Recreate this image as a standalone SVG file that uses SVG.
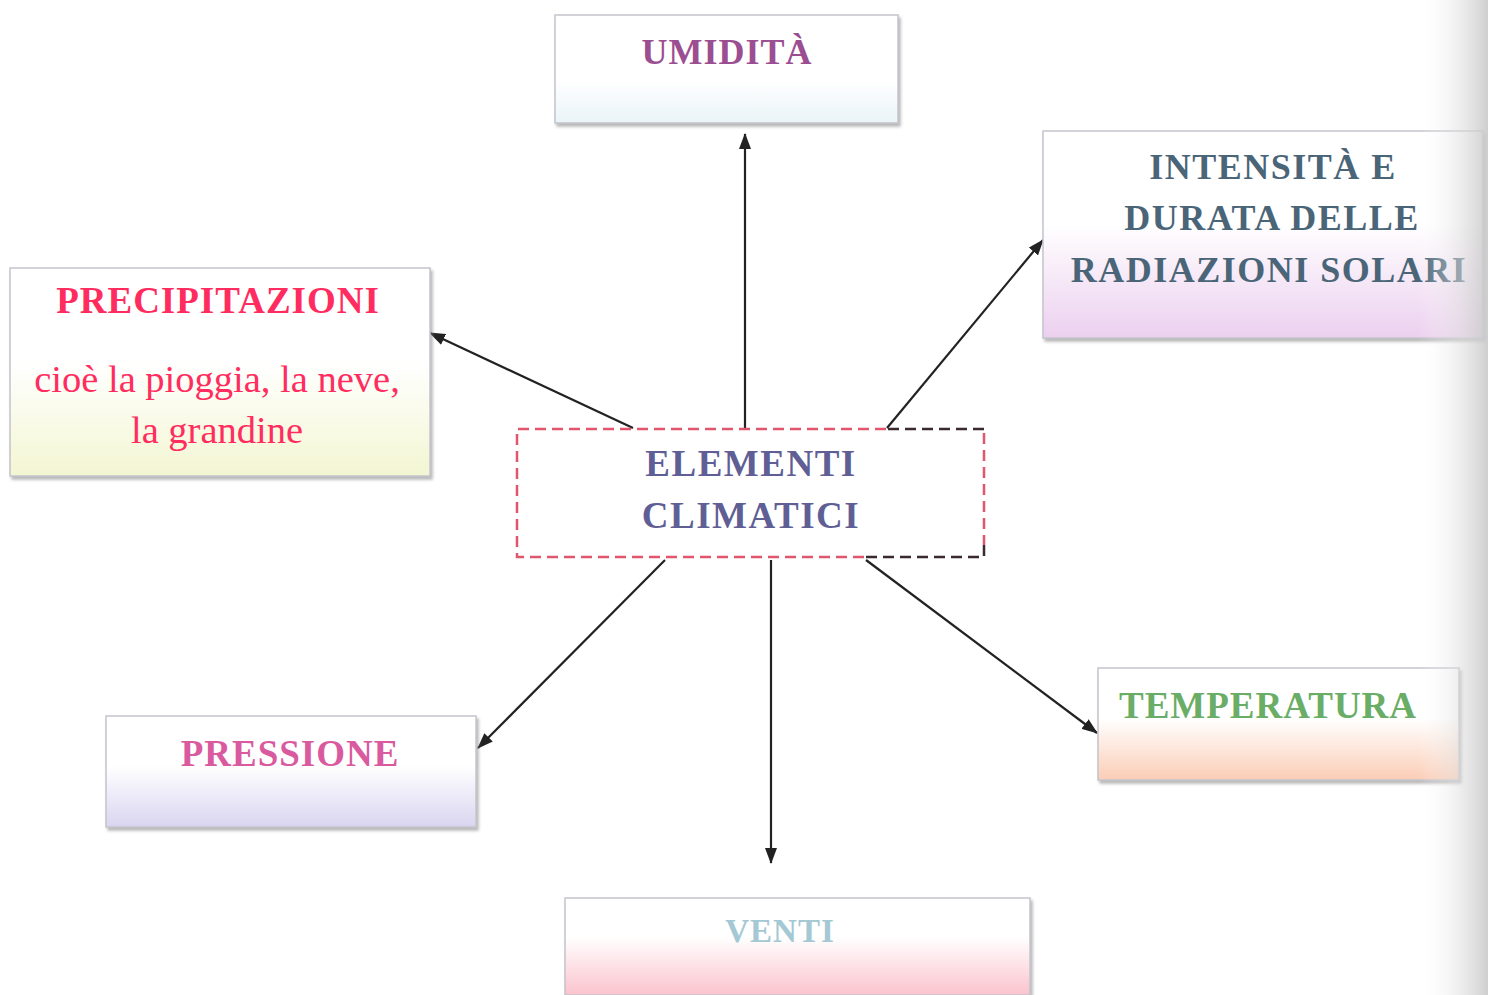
<svg xmlns="http://www.w3.org/2000/svg" width="1488" height="995" viewBox="0 0 1488 995">
<defs>
<style>
.t{font-family:"Liberation Serif","Times New Roman",serif;font-weight:bold;text-anchor:middle;font-size:36px;letter-spacing:1px}
.r{font-family:"Liberation Serif","Times New Roman",serif;text-anchor:middle;font-size:38.5px;fill:#ff2d5f}
.box{stroke:#c4c4cc;stroke-width:1.5;filter:url(#sh)}
.c{stroke:#222;stroke-width:2.2;fill:none;marker-end:url(#ah)}
.dash{fill:none;stroke-width:2.5;stroke-dasharray:11,6}
</style>
<filter id="sh" x="-5%" y="-5%" width="115%" height="120%">
<feDropShadow dx="2" dy="3" stdDeviation="1.5" flood-color="#888" flood-opacity="0.6"/>
</filter>
<marker id="ah" viewBox="0 0 16 12" refX="15" refY="6" markerWidth="16" markerHeight="12" markerUnits="userSpaceOnUse" orient="auto">
<path d="M0,0 L16,6 L0,12 Z" fill="#222"/>
</marker>
<linearGradient id="gU" x1="0" y1="0" x2="0" y2="1"><stop offset="0.6" stop-color="#fff"/><stop offset="1" stop-color="#eaf4f8"/></linearGradient>
<linearGradient id="gI" x1="0" y1="0" x2="0" y2="1"><stop offset="0.45" stop-color="#fff"/><stop offset="1" stop-color="#ecd0ef"/></linearGradient>
<linearGradient id="gP" x1="0" y1="0" x2="0" y2="1"><stop offset="0.45" stop-color="#fff"/><stop offset="1" stop-color="#f3f6d2"/></linearGradient>
<linearGradient id="gS" x1="0" y1="0" x2="0" y2="1"><stop offset="0.45" stop-color="#fff"/><stop offset="1" stop-color="#d9d5f0"/></linearGradient>
<linearGradient id="gT" x1="0" y1="0" x2="0" y2="1"><stop offset="0.45" stop-color="#fff"/><stop offset="1" stop-color="#fbcdb6"/></linearGradient>
<linearGradient id="gV" x1="0" y1="0" x2="0" y2="1"><stop offset="0.4" stop-color="#fff"/><stop offset="1" stop-color="#fbc3cd"/></linearGradient>
<linearGradient id="edge" x1="0" y1="0" x2="1" y2="0"><stop offset="0" stop-color="#fff" stop-opacity="0"/><stop offset="1" stop-color="#c9c9c9" stop-opacity="0.9"/></linearGradient>
</defs>
<rect width="1488" height="995" fill="#fff"/>

<g id="connectors">
<line class="c" x1="745" y1="428" x2="745" y2="134"/>
<line class="c" x1="887" y1="428" x2="1043" y2="240"/>
<line class="c" x1="633" y1="428" x2="430" y2="333"/>
<line class="c" x1="665" y1="560" x2="478" y2="748"/>
<line class="c" x1="771" y1="560" x2="771" y2="863"/>
<line class="c" x1="866" y1="560" x2="1097" y2="733"/>
</g>

<g id="umidita">
<rect class="box" x="555" y="15" width="343" height="108" fill="url(#gU)"/>
<text class="t" x="727" y="64" fill="#9b4e91">UMIDITÀ</text>
</g>

<g id="intensita">
<rect class="box" x="1043" y="131" width="440" height="207" fill="url(#gI)" stroke="#b7a4c0"/>
<g class="t" fill="#4a6577" style="letter-spacing:1.5px">
<text x="1273" y="179">INTENSITÀ E</text>
<text x="1272" y="230">DURATA DELLE</text>
<text x="1269" y="282">RADIAZIONI SOLARI</text>
</g>
</g>

<g id="precipitazioni">
<rect class="box" x="10" y="268" width="420" height="208" fill="url(#gP)"/>
<text class="t" x="218" y="313" fill="#ff2d5f" style="font-size:37px;letter-spacing:1px">PRECIPITAZIONI</text>
<text class="r" x="217" y="392">cioè la pioggia, la neve,</text>
<text class="r" x="217" y="443">la grandine</text>
</g>

<g id="elementi">
<rect x="517" y="429" width="467" height="128" fill="#fff"/>
<path class="dash" d="M886,429 H517 V557 H866 M984,433 V545" stroke="#e0566c"/>
<path class="dash" d="M888,429 H984 M866,557 H984 V545" stroke="#3a2a30"/>
<g class="t" fill="#5f5f95" style="font-size:37px;letter-spacing:1.5px">
<text x="751" y="476">ELEMENTI</text>
<text x="751" y="528">CLIMATICI</text>
</g>
</g>

<g id="pressione">
<rect class="box" x="106" y="716" width="370" height="111" fill="url(#gS)"/>
<text class="t" x="290" y="766" fill="#d95a9f" style="font-size:37px">PRESSIONE</text>
</g>

<g id="temperatura">
<rect class="box" x="1098" y="668" width="361" height="112" fill="url(#gT)" stroke="#ecc8b8"/>
<text class="t" x="1268" y="718" fill="#6aad66" style="font-size:37px">TEMPERATURA</text>
</g>

<g id="venti">
<rect class="box" x="565" y="898" width="465" height="97" fill="url(#gV)" stroke="#f07a86"/>
<text class="t" x="780" y="942" fill="#a4c8d4" style="font-size:33px">VENTI</text>
</g>

<rect x="1418" y="0" width="70" height="995" fill="url(#edge)"/>
</svg>
